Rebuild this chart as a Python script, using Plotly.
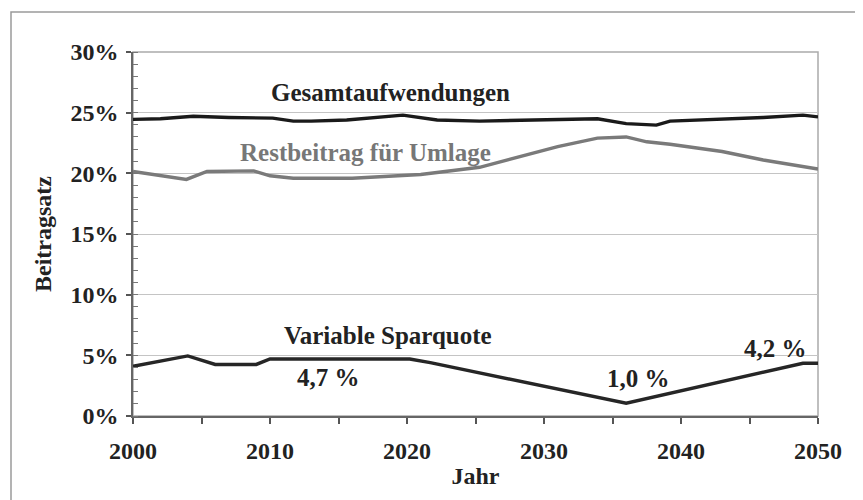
import plotly.graph_objects as go

# ---- data (values in percent) ----
years_gesamt = [2000, 2002, 2004.4, 2007, 2010.2, 2011.7, 2013, 2015.6, 2019.7, 2022.2, 2025.3, 2027.7, 2030, 2033.9, 2036, 2038.2, 2039.2, 2042, 2046, 2048.9, 2050]
gesamt = [24.45, 24.5, 24.7, 24.6, 24.55, 24.3, 24.3, 24.4, 24.8, 24.4, 24.3, 24.35, 24.4, 24.5, 24.1, 23.97, 24.3, 24.4, 24.6, 24.8, 24.65]

years_rest = [2000, 2002, 2003.9, 2005.4, 2008.8, 2010, 2011.7, 2016, 2021, 2025.3, 2027.7, 2031, 2033.9, 2036, 2037.5, 2039.2, 2043, 2046, 2050]
restbeitrag = [20.15, 19.8, 19.5, 20.15, 20.2, 19.8, 19.6, 19.6, 19.9, 20.5, 21.2, 22.2, 22.9, 23.0, 22.6, 22.4, 21.8, 21.1, 20.35]

years_spar = [2000, 2004, 2006, 2009, 2010, 2020.2, 2021.7, 2036, 2048.9, 2050]
sparquote = [4.1, 4.95, 4.25, 4.25, 4.7, 4.7, 4.4, 1.05, 4.35, 4.35]

series_labels = ["Gesamtaufwendungen", "Restbeitrag für Umlage", "Variable Sparquote"]
value_labels = ["4,7 %", "1,0 %", "4,2 %"]

x_ticks = [2000, 2010, 2020, 2030, 2040, 2050]
y_ticks = [0, 5, 10, 15, 20, 25, 30]
y_tick_text = [f"{v}%" for v in y_ticks]

FONT = "Liberation Serif"
fs_ann = 25
fs_tick = 24

fig = go.Figure()
fig.add_trace(go.Scatter(x=years_gesamt, y=gesamt, mode="lines", name=series_labels[0],
                         line=dict(color="#1a1a1a", width=3.4)))
fig.add_trace(go.Scatter(x=years_rest, y=restbeitrag, mode="lines", name=series_labels[1],
                         line=dict(color="#7a7a7a", width=3.4)))
fig.add_trace(go.Scatter(x=years_spar, y=sparquote, mode="lines", name=series_labels[2],
                         line=dict(color="#262626", width=3.4)))

def ann(x, y, text, color="#222222"):
    fig.add_annotation(x=x, y=y, xref="x", yref="y", text=f"<b>{text}</b>", showarrow=False,
                       font=dict(family=FONT, size=fs_ann, color=color), xanchor="center", yanchor="middle")

ann(2018.8, 26.7, series_labels[0])
ann(2017.0, 21.7, series_labels[1], color="#777777")
ann(2018.6, 6.6, series_labels[2])
ann(2014.3, 3.2, value_labels[0])
ann(2036.9, 3.1, value_labels[1])
ann(2046.9, 5.6, value_labels[2])

# figure sits at an 8px page offset; plot area target: x 133..818, y 52..416 (page px)
OFF = 8
W, H = 855, 492
L, T = 133 - OFF, 52 - OFF
R = W + OFF - 818
B = H + OFF - 416
pw, ph = W - L - R, H - T - B

def px_x(p):  # page px -> paper x
    return (p - OFF - L) / pw

def px_y(p):  # page px -> paper y
    return (H - B - (p - OFF)) / ph

fig.add_shape(type="rect", xref="paper", yref="paper",
              x0=px_x(11), x1=px_x(900), y0=px_y(540), y1=px_y(12),
              line=dict(color="#9a9a9a", width=1.5), layer="below")
fig.add_shape(type="rect", xref="paper", yref="paper", x0=0, x1=1, y0=0, y1=1,
              line=dict(color="#aaaaaa", width=1.5), layer="below")

fig.update_layout(
    width=W, height=H,
    margin=dict(l=L, r=R, t=T, b=B),
    paper_bgcolor="#ffffff", plot_bgcolor="#ffffff",
    showlegend=False,
    font=dict(family=FONT, size=fs_tick, color="#222222"),
)
fig.update_xaxes(
    range=[2000, 2050], tickvals=x_ticks, ticktext=[f"<b>{v}</b>" for v in x_ticks],
    ticks="outside", ticklen=6, tickwidth=1.5, tickcolor="#555555", ticklabelstandoff=6,
    minor=dict(dtick=5, tick0=2000, ticks="outside", ticklen=6, tickwidth=1.5, tickcolor="#555555"),
    showline=True, linecolor="#666666", linewidth=1.5, showgrid=False, zeroline=False,
    title=dict(text="<b>Jahr</b>", standoff=5, font=dict(family=FONT, size=fs_tick)),
    tickfont=dict(family=FONT, size=fs_tick, color="#222222"),
)
fig.update_yaxes(
    range=[0, 30], tickvals=y_ticks, ticktext=[f"<b>{t}</b>" for t in y_tick_text],
    ticks="outside", ticklen=5, tickwidth=1.5, tickcolor="#555555", ticklabelstandoff=3,
    minor=dict(dtick=1, tick0=0, ticks="inside", ticklen=5, tickwidth=1, tickcolor="#777777"),
    showline=True, linecolor="#666666", linewidth=1.5,
    showgrid=True, gridcolor="#c4c4c4", gridwidth=1, zeroline=False,
    title=dict(text="<b>Beitragsatz</b>", standoff=12, font=dict(family=FONT, size=fs_tick)),
    tickfont=dict(family=FONT, size=fs_tick, color="#222222"),
)

fig.write_html("out.html")
